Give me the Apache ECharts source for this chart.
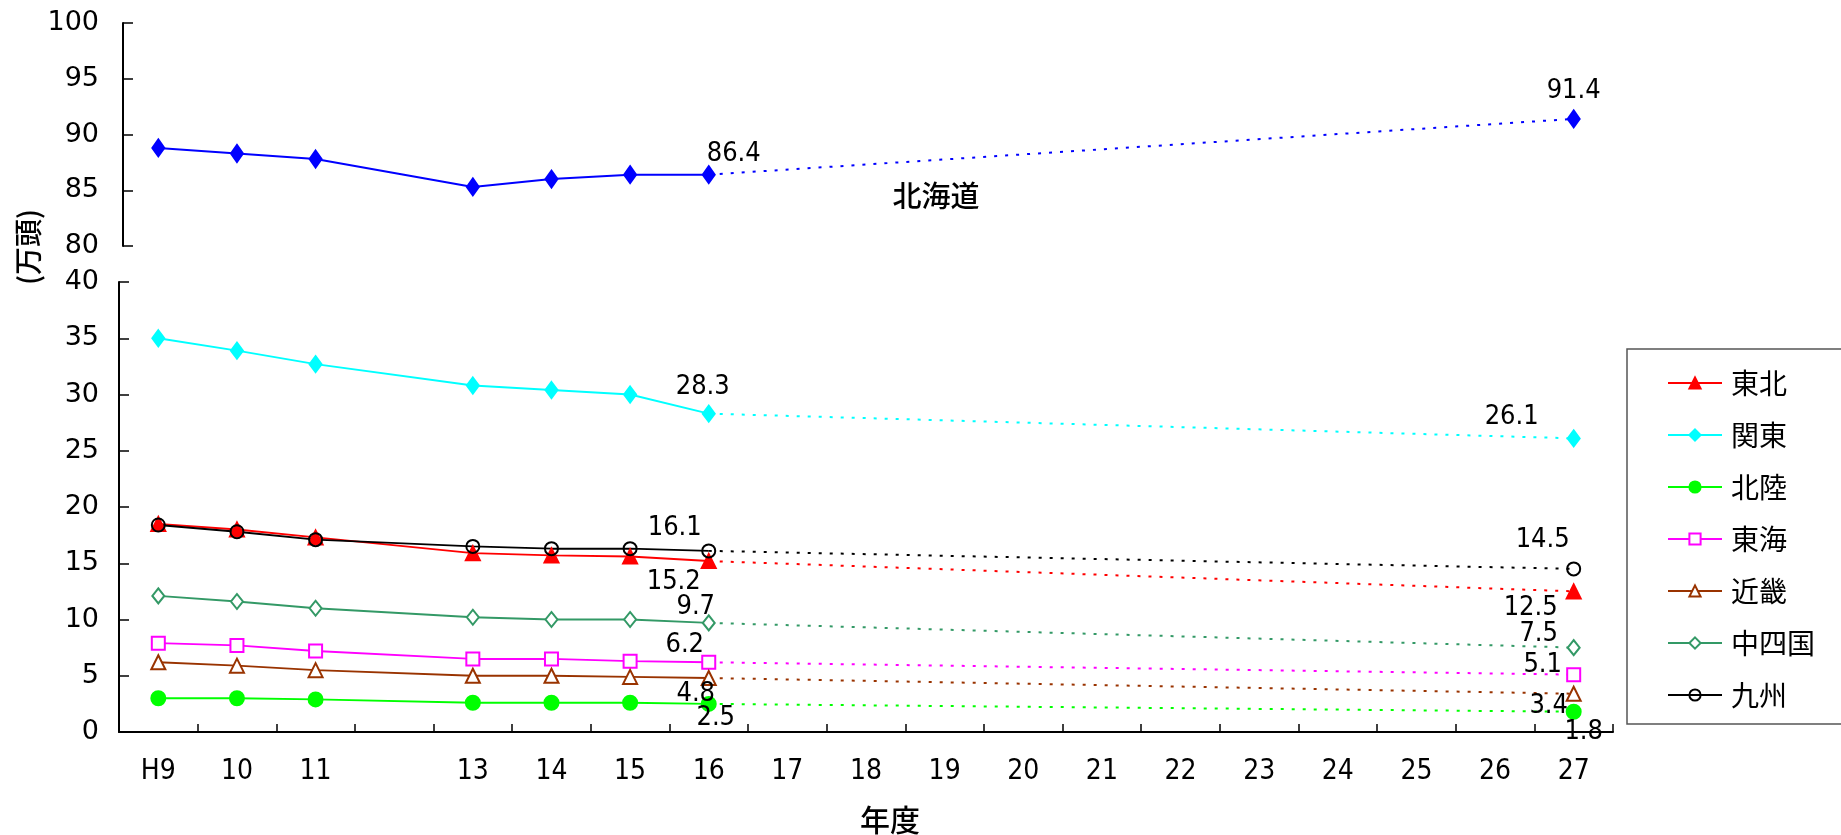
<!DOCTYPE html>
<html>
<head>
<meta charset="utf-8">
<script src="https://cdn.jsdelivr.net/npm/echarts@6/dist/echarts.min.js"></script>
<style>
  html, body { margin: 0; padding: 0; background: #fff; }
  #chart { width: 1841px; height: 835px; }
</style>
</head>
<body>
<div id="chart"></div>
<script>
// 年度 (category axis); H12 has no survey value, so its tick label is left blank
const years = ['H9', '10', '11', '12', '13', '14', '15', '16', '17', '18', '19', '20', '21', '22', '23', '24', '25', '26', '27'];
const yearLabels = ['H9', '10', '11', '', '13', '14', '15', '16', '17', '18', '19', '20', '21', '22', '23', '24', '25', '26', '27'];

// 実績 H9〜H16 (万頭); index 3 = H12 (no data)
const hokkaido = [88.8, 88.3, 87.8, null, 85.3, 86.0, 86.4, 86.4];
const tohoku   = [18.5, 18.0, 17.3, null, 15.9, 15.7, 15.6, 15.2];
const kanto    = [35.0, 33.9, 32.7, null, 30.8, 30.4, 30.0, 28.3];
const hokuriku = [3.0, 3.0, 2.9, null, 2.6, 2.6, 2.6, 2.5];
const tokai    = [7.9, 7.7, 7.2, null, 6.5, 6.5, 6.3, 6.2];
const kinki    = [6.2, 5.9, 5.5, null, 5.0, 5.0, 4.9, 4.8];
const chushikoku = [12.1, 11.6, 11.0, null, 10.2, 10.0, 10.0, 9.7];
const kyushu   = [18.4, 17.8, 17.1, null, 16.5, 16.3, 16.3, 16.1];

// 目標 H27 (万頭)
const hokkaido27 = 91.4;
const tohoku27 = 12.5;
const kanto27 = 26.1;
const hokuriku27 = 1.8;
const tokai27 = 5.1;
const kinki27 = 3.4;
const chushikoku27 = 7.5;
const kyushu27 = 14.5;

const yTopTicks = [80, 85, 90, 95, 100];
const yBottomTicks = [0, 5, 10, 15, 20, 25, 30, 35, 40];

// series styling and value-label offsets (label centre relative to the marker)
const regions = [
  { name: '東北', data: tohoku, goal: tohoku27, color: '#ff0000', symbol: 'triangle', size: 14, fill: '#ff0000', offLast: [-35, 21], offGoal: [-43, 17] },
  { name: '関東', data: kanto, goal: kanto27, color: '#00ffff', symbol: 'diamond', size: [12, 16], fill: '#00ffff', offLast: [-6, -27], offGoal: [-62, -21] },
  { name: '北陸', data: hokuriku, goal: hokuriku27, color: '#00ff00', symbol: 'circle', size: 14, fill: '#00ff00', offLast: [7, 14], offGoal: [10, 20] },
  { name: '東海', data: tokai, goal: tokai27, color: '#ff00ff', symbol: 'rect', size: 13, fill: '#ffffff', offLast: [-24, -17], offGoal: [-31, -10] },
  { name: '近畿', data: kinki, goal: kinki27, color: '#993300', symbol: 'triangle', size: 14, fill: '#ffffff', offLast: [-13, 16], offGoal: [-25, 12] },
  { name: '中四国', data: chushikoku, goal: chushikoku27, color: '#339966', symbol: 'diamond', size: [12, 15], fill: '#ffffff', offLast: [-13, -16], offGoal: [-35, -14] },
  { name: '九州', data: kyushu, goal: kyushu27, color: '#000000', symbol: 'circle', size: 13, fill: 'rgba(0,0,0,0)', offLast: [-34, -23], offGoal: [-31, -29] }
];
const hokkaidoStyle = { name: '北海道', data: hokkaido, goal: hokkaido27, color: '#0000ff', symbol: 'diamond', size: [12, 17], fill: '#0000ff', offLast: [25, -21], offGoal: [0, -28] };

const narrowFont = "'Liberation Sans Narrow', 'DejaVu Sans Condensed', 'Noto Sans CJK JP', sans-serif";
const cjkFont = "'Noto Sans CJK JP', sans-serif";

const labelFont = { fontFamily: narrowFont, fontSize: 27, color: '#000' };

const lastIdx = 7;
const goalIdx = years.length - 1;

function valueLabel(off) {
  return Object.assign({ show: true, position: 'inside', offset: off, formatter: p => p.value.toFixed(1) }, labelFont);
}

function buildSeries(r, axisIdx) {
  const solid = years.map((_, i) => {
    if (i >= r.data.length || r.data[i] == null) return null;
    if (i === lastIdx) return { value: r.data[i], label: valueLabel(r.offLast) };
    return r.data[i];
  });
  const dotted = years.map((_, i) => {
    if (i === lastIdx) return { value: r.data[lastIdx], symbol: 'none' };
    if (i === goalIdx) return { value: r.goal, label: valueLabel(r.offGoal) };
    return null;
  });
  const common = {
    type: 'line',
    name: r.name,
    xAxisIndex: axisIdx,
    yAxisIndex: axisIdx,
    symbol: r.symbol,
    symbolSize: r.size,
    showAllSymbol: true,
    itemStyle: { color: r.fill, borderColor: r.color, borderWidth: 2 },
    emphasis: { disabled: true },
    animation: false,
    label: { show: false }
  };
  return [
    Object.assign({}, common, {
      data: solid,
      connectNulls: true,
      lineStyle: { color: r.color, width: 2 }
    }),
    Object.assign({}, common, {
      data: dotted,
      connectNulls: true,
      lineStyle: { color: r.color, width: 2, type: [3, 8] }
    })
  ];
}

const series = [];
buildSeries(hokkaidoStyle, 1).forEach(s => series.push(s));
regions.forEach(r => buildSeries(r, 0).forEach(s => series.push(s)));

const yLabelFont = { fontFamily: "'DejaVu Sans', sans-serif", fontSize: 27, color: '#000' };

const chart = echarts.init(document.getElementById('chart'), null, { renderer: 'canvas' });
chart.setOption({
  backgroundColor: '#ffffff',
  animation: false,
  grid: [
    { left: 119, top: 282, width: 1494, height: 450 },
    { left: 119, top: 23, width: 1494, height: 223 }
  ],
  xAxis: [
    {
      type: 'category', gridIndex: 0, data: years, boundaryGap: true,
      axisLine: { show: true, lineStyle: { color: '#000', width: 2 } },
      axisTick: { show: true, inside: true, length: 8, alignWithLabel: false, lineStyle: { color: '#000', width: 1.5 } },
      axisLabel: {
        margin: 26, interval: 0,
        formatter: (v, i) => yearLabels[i],
        fontFamily: narrowFont,
        fontSize: 28, color: '#000'
      },
      splitLine: { show: false }
    },
    {
      type: 'category', gridIndex: 1, data: years, boundaryGap: true, show: false
    }
  ],
  yAxis: [
    {
      type: 'value', gridIndex: 0, min: yBottomTicks[0], max: yBottomTicks[yBottomTicks.length - 1], interval: 5,
      axisLine: { show: true, lineStyle: { color: '#000', width: 2 } },
      axisTick: { show: true, inside: true, length: 10, lineStyle: { color: '#000', width: 1.5 } },
      axisLabel: Object.assign({ margin: 20 }, yLabelFont),
      splitLine: { show: false }
    },
    {
      type: 'value', gridIndex: 1, min: yTopTicks[0], max: yTopTicks[yTopTicks.length - 1], interval: 5, offset: -4,
      axisLine: { show: true, lineStyle: { color: '#000', width: 2 } },
      axisTick: { show: true, inside: true, length: 10, lineStyle: { color: '#000', width: 1.5 } },
      axisLabel: Object.assign({ margin: 24 }, yLabelFont),
      splitLine: { show: false }
    }
  ],
  legend: {
    data: regions.map(r => r.name),
    orient: 'vertical',
    left: 1627,
    top: 349,
    padding: [20, 80, 15, 40],
    itemWidth: 54,
    itemHeight: 14,
    itemGap: 24,
    borderColor: '#555',
    borderWidth: 1.5,
    selectedMode: false,
    textStyle: { fontFamily: cjkFont, fontSize: 28, color: '#000', lineHeight: 28, padding: [0, 0, 0, 4] }
  },
  graphic: [
    {
      type: 'text', x: 28, y: 247, rotation: Math.PI / 2,
      style: { text: '(万頭)', font: "500 28px 'Noto Sans CJK JP', sans-serif", fill: '#000', align: 'center', verticalAlign: 'middle' }
    },
    {
      type: 'text', x: 890, y: 820,
      style: { text: '年度', font: "500 30px 'Noto Sans CJK JP', sans-serif", fill: '#000', align: 'center', verticalAlign: 'middle' }
    },
    {
      type: 'text', x: 936, y: 196,
      style: { text: '北海道', font: "500 29px 'Noto Sans CJK JP', sans-serif", fill: '#000', align: 'center', verticalAlign: 'middle' }
    }
  ],
  series: series
});
</script>
</body>
</html>
